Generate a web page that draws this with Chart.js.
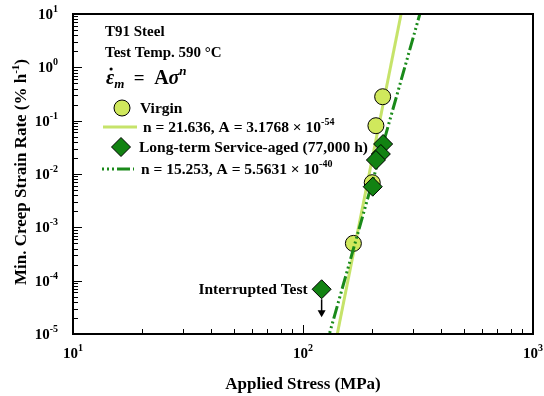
<!DOCTYPE html>
<html>
<head>
<meta charset="utf-8">
<script src="https://cdn.jsdelivr.net/npm/chart.js@4.4.1/dist/chart.umd.min.js"></script>
<style>
  html, body { margin: 0; padding: 0; background: #fff; }
  #wrap { width: 544px; height: 396px; }
</style>
</head>
<body>
<div id="wrap"><canvas id="creepChart" width="544" height="396"></canvas></div>
<script>
// Virgin T91, minimum creep rate (% / h) against applied stress (MPa)
const virginStress = [222, 207.5, 200, 165.6];
const virginRate = [0.281, 0.0805, 0.00687, 0.0005];

// Long-term service-aged (77,000 h); last one is the interrupted test
const agedStress = [223, 218, 207.5, 201, 120.5];
const agedRate = [0.0365, 0.0237, 0.0183, 0.00578, 0.000069];

// Norton law fits  eps = A * sigma^n  (A in 1/h, plotted as % per hour)
const virginN = 21.636, virginA = 3.1768e-54;
const agedN = 15.253, agedA = 5.5631e-40;
const virginFitStress = [130, 280];
const agedFitStress = [120, 330];

// decade labels on both axes
const xTickExp = [1, 2, 3];
const yTickExp = [1, 0, -1, -2, -3, -4, -5];

const nortonRate = (A, n, s) => 100 * A * Math.pow(s, n);

const LIGHT = '#c6e36a';
const CIRCLE = '#d0e85c';
const DARK = '#1a8a1a';
const DIAMOND = '#128212';
const DASH = [2, 3, 2, 3, 2, 3, 13, 3];

const F = (size, style) => (style || 'bold') + ' ' + size + 'px "Liberation Serif", "Times New Roman", serif';

// draws a run of [text, font, dy] pieces on one baseline
function drawRich(ctx, parts, x, y, align) {
    let total = 0;
    parts.forEach(p => { ctx.font = p[1]; total += ctx.measureText(p[0]).width; });
    let cx = align === 'center' ? x - total / 2 : align === 'right' ? x - total : x;
    ctx.textAlign = 'left';
    ctx.textBaseline = 'alphabetic';
    parts.forEach(p => {
        ctx.font = p[1];
        ctx.fillText(p[0], cx, y + (p[2] || 0));
        cx += ctx.measureText(p[0]).width;
    });
    return cx;
}

function pow10(exp) {
    return [['10', F(15)], [String(exp), F(10), -7]];
}

function drawDiamond(ctx, x, y, r) {
    ctx.beginPath();
    ctx.moveTo(x, y - r);
    ctx.lineTo(x + r, y);
    ctx.lineTo(x, y + r);
    ctx.lineTo(x - r, y);
    ctx.closePath();
    ctx.fillStyle = DIAMOND;
    ctx.fill();
    ctx.lineWidth = 1;
    ctx.strokeStyle = '#000';
    ctx.stroke();
}

// frame, inward ticks, labels, legend and notes
const framePlugin = {
    id: 'frame',
    afterDatasetsDraw(chart) {
        const ctx = chart.ctx;
        const a = chart.chartArea;
        const xs = chart.scales.x, ys = chart.scales.y;
        ctx.save();
        ctx.fillStyle = '#000';
        ctx.strokeStyle = '#000';

        // ticks
        ctx.lineWidth = 1;
        ctx.beginPath();
        for (let d = -5; d <= 0; d++) {
            for (let k = 1; k <= 9; k++) {
                const y = Math.round(ys.getPixelForValue(k * Math.pow(10, d))) + 0.5;
                const len = k === 1 ? 9 : 5;
                ctx.moveTo(a.left, y);
                ctx.lineTo(a.left + len, y);
            }
        }
        for (let d = 1; d <= 2; d++) {
            for (let k = 1; k <= 9; k++) {
                const x = Math.round(xs.getPixelForValue(k * Math.pow(10, d))) + 0.5;
                const len = k === 1 ? 9 : 5;
                ctx.moveTo(x, a.bottom);
                ctx.lineTo(x, a.bottom - len);
            }
        }
        ctx.stroke();

        // frame
        ctx.lineWidth = 2;
        ctx.strokeRect(a.left, a.top, a.right - a.left, a.bottom - a.top);

        // tick labels
        yTickExp.forEach(e => {
            const y = ys.getPixelForValue(Math.pow(10, e));
            drawRich(ctx, pow10(e), 58, y + 5, 'right');
        });
        xTickExp.forEach(e => {
            const x = xs.getPixelForValue(Math.pow(10, e));
            drawRich(ctx, pow10(e), x, 358, 'center');
        });

        // axis titles
        drawRich(ctx, [['Applied Stress (MPa)', F(17)]], (a.left + a.right) / 2, 389, 'center');
        ctx.save();
        ctx.translate(20, 172);
        ctx.rotate(-Math.PI / 2);
        drawRich(ctx, [['Min. Creep Strain Rate (% h', F(17)], ['-1', F(11), -7], [')', F(17)]], 0, 6, 'center');
        ctx.restore();

        // material notes and formula
        drawRich(ctx, [['T91 Steel', F(15)]], 105, 36);
        drawRich(ctx, [['Test Temp. 590 °C', F(15)]], 105, 57);
        const epsW = (ctx.font = F(20, 'bold italic'), ctx.measureText('ε').width);
        drawRich(ctx, [
            ['ε', F(20, 'bold italic')],
            ['m', F(13, 'bold italic'), 4],
            ['  =  ', F(19)],
            ['A', F(20)],
            ['σ', F(20, 'bold italic')],
            ['n', F(13, 'bold italic'), -9]
        ], 106, 84);
        ctx.beginPath();
        ctx.arc(106 + epsW / 2 + 1, 69, 1.6, 0, Math.PI * 2);
        ctx.fill();

        // legend
        ctx.beginPath();
        ctx.arc(122, 108, 8, 0, Math.PI * 2);
        ctx.fillStyle = CIRCLE;
        ctx.fill();
        ctx.lineWidth = 1;
        ctx.stroke();
        ctx.fillStyle = '#000';
        drawRich(ctx, [['Virgin', F(15.5)]], 140, 113);

        ctx.strokeStyle = LIGHT;
        ctx.lineWidth = 3;
        ctx.beginPath();
        ctx.moveTo(103, 127);
        ctx.lineTo(137, 127);
        ctx.stroke();
        drawRich(ctx, [['n = 21.636, A = 3.1768 × 10', F(15.5)], ['-54', F(10), -7]], 143, 132);

        ctx.strokeStyle = '#000';
        drawDiamond(ctx, 121, 147, 9.5);
        ctx.fillStyle = '#000';
        drawRich(ctx, [['Long-term Service-aged (77,000 h)', F(15.5)]], 139, 152);

        ctx.strokeStyle = DARK;
        ctx.lineWidth = 3;
        ctx.setLineDash(DASH);
        ctx.beginPath();
        ctx.moveTo(102, 169);
        ctx.lineTo(134, 169);
        ctx.stroke();
        ctx.setLineDash([]);
        drawRich(ctx, [['n = 15.253, A = 5.5631 × 10', F(15.5)], ['-40', F(10), -7]], 141, 174);

        // interrupted test note and arrow under that point
        const last = agedStress.length - 1;
        const ix = xs.getPixelForValue(agedStress[last]);
        const iy = ys.getPixelForValue(agedRate[last]);
        drawRich(ctx, [['Interrupted Test', F(15.5)]], ix - 14, iy + 5, 'right');
        ctx.strokeStyle = '#000';
        ctx.lineWidth = 1.5;
        ctx.beginPath();
        ctx.moveTo(ix, iy + 10);
        ctx.lineTo(ix, iy + 24);
        ctx.stroke();
        ctx.beginPath();
        ctx.moveTo(ix - 4, iy + 21);
        ctx.lineTo(ix + 4, iy + 21);
        ctx.lineTo(ix, iy + 28);
        ctx.closePath();
        ctx.fill();

        ctx.restore();
    }
};

const ctx = document.getElementById('creepChart').getContext('2d');
new Chart(ctx, {
    type: 'scatter',
    data: {
        datasets: [
            {
                label: 'n = 21.636',
                data: virginFitStress.map(s => ({ x: s, y: nortonRate(virginA, virginN, s) })),
                showLine: true,
                borderColor: LIGHT,
                borderWidth: 3,
                pointRadius: 0,
                order: 4
            },
            {
                label: 'Virgin',
                data: virginStress.map((s, i) => ({ x: s, y: virginRate[i] })),
                pointStyle: 'circle',
                pointRadius: 8,
                backgroundColor: CIRCLE,
                borderColor: '#000',
                borderWidth: 1,
                order: 3
            },
            {
                label: 'n = 15.253',
                data: agedFitStress.map(s => ({ x: s, y: nortonRate(agedA, agedN, s) })),
                showLine: true,
                borderColor: DARK,
                borderWidth: 3,
                borderDash: DASH,
                pointRadius: 0,
                order: 2
            },
            {
                label: 'Long-term Service-aged (77,000 h)',
                data: agedStress.map((s, i) => ({ x: s, y: agedRate[i] })),
                pointStyle: 'rectRot',
                pointRadius: 9.5,
                backgroundColor: DIAMOND,
                borderColor: '#000',
                borderWidth: 1,
                order: 1
            }
        ]
    },
    options: {
        responsive: false,
        animation: false,
        layout: { padding: { left: 73, top: 14, right: 11, bottom: 62 } },
        plugins: {
            legend: { display: false },
            tooltip: { enabled: false }
        },
        scales: {
            x: { type: 'logarithmic', min: 10, max: 1000, display: false },
            y: { type: 'logarithmic', min: 1e-5, max: 10, display: false }
        }
    },
    plugins: [framePlugin]
});
</script>
</body>
</html>
